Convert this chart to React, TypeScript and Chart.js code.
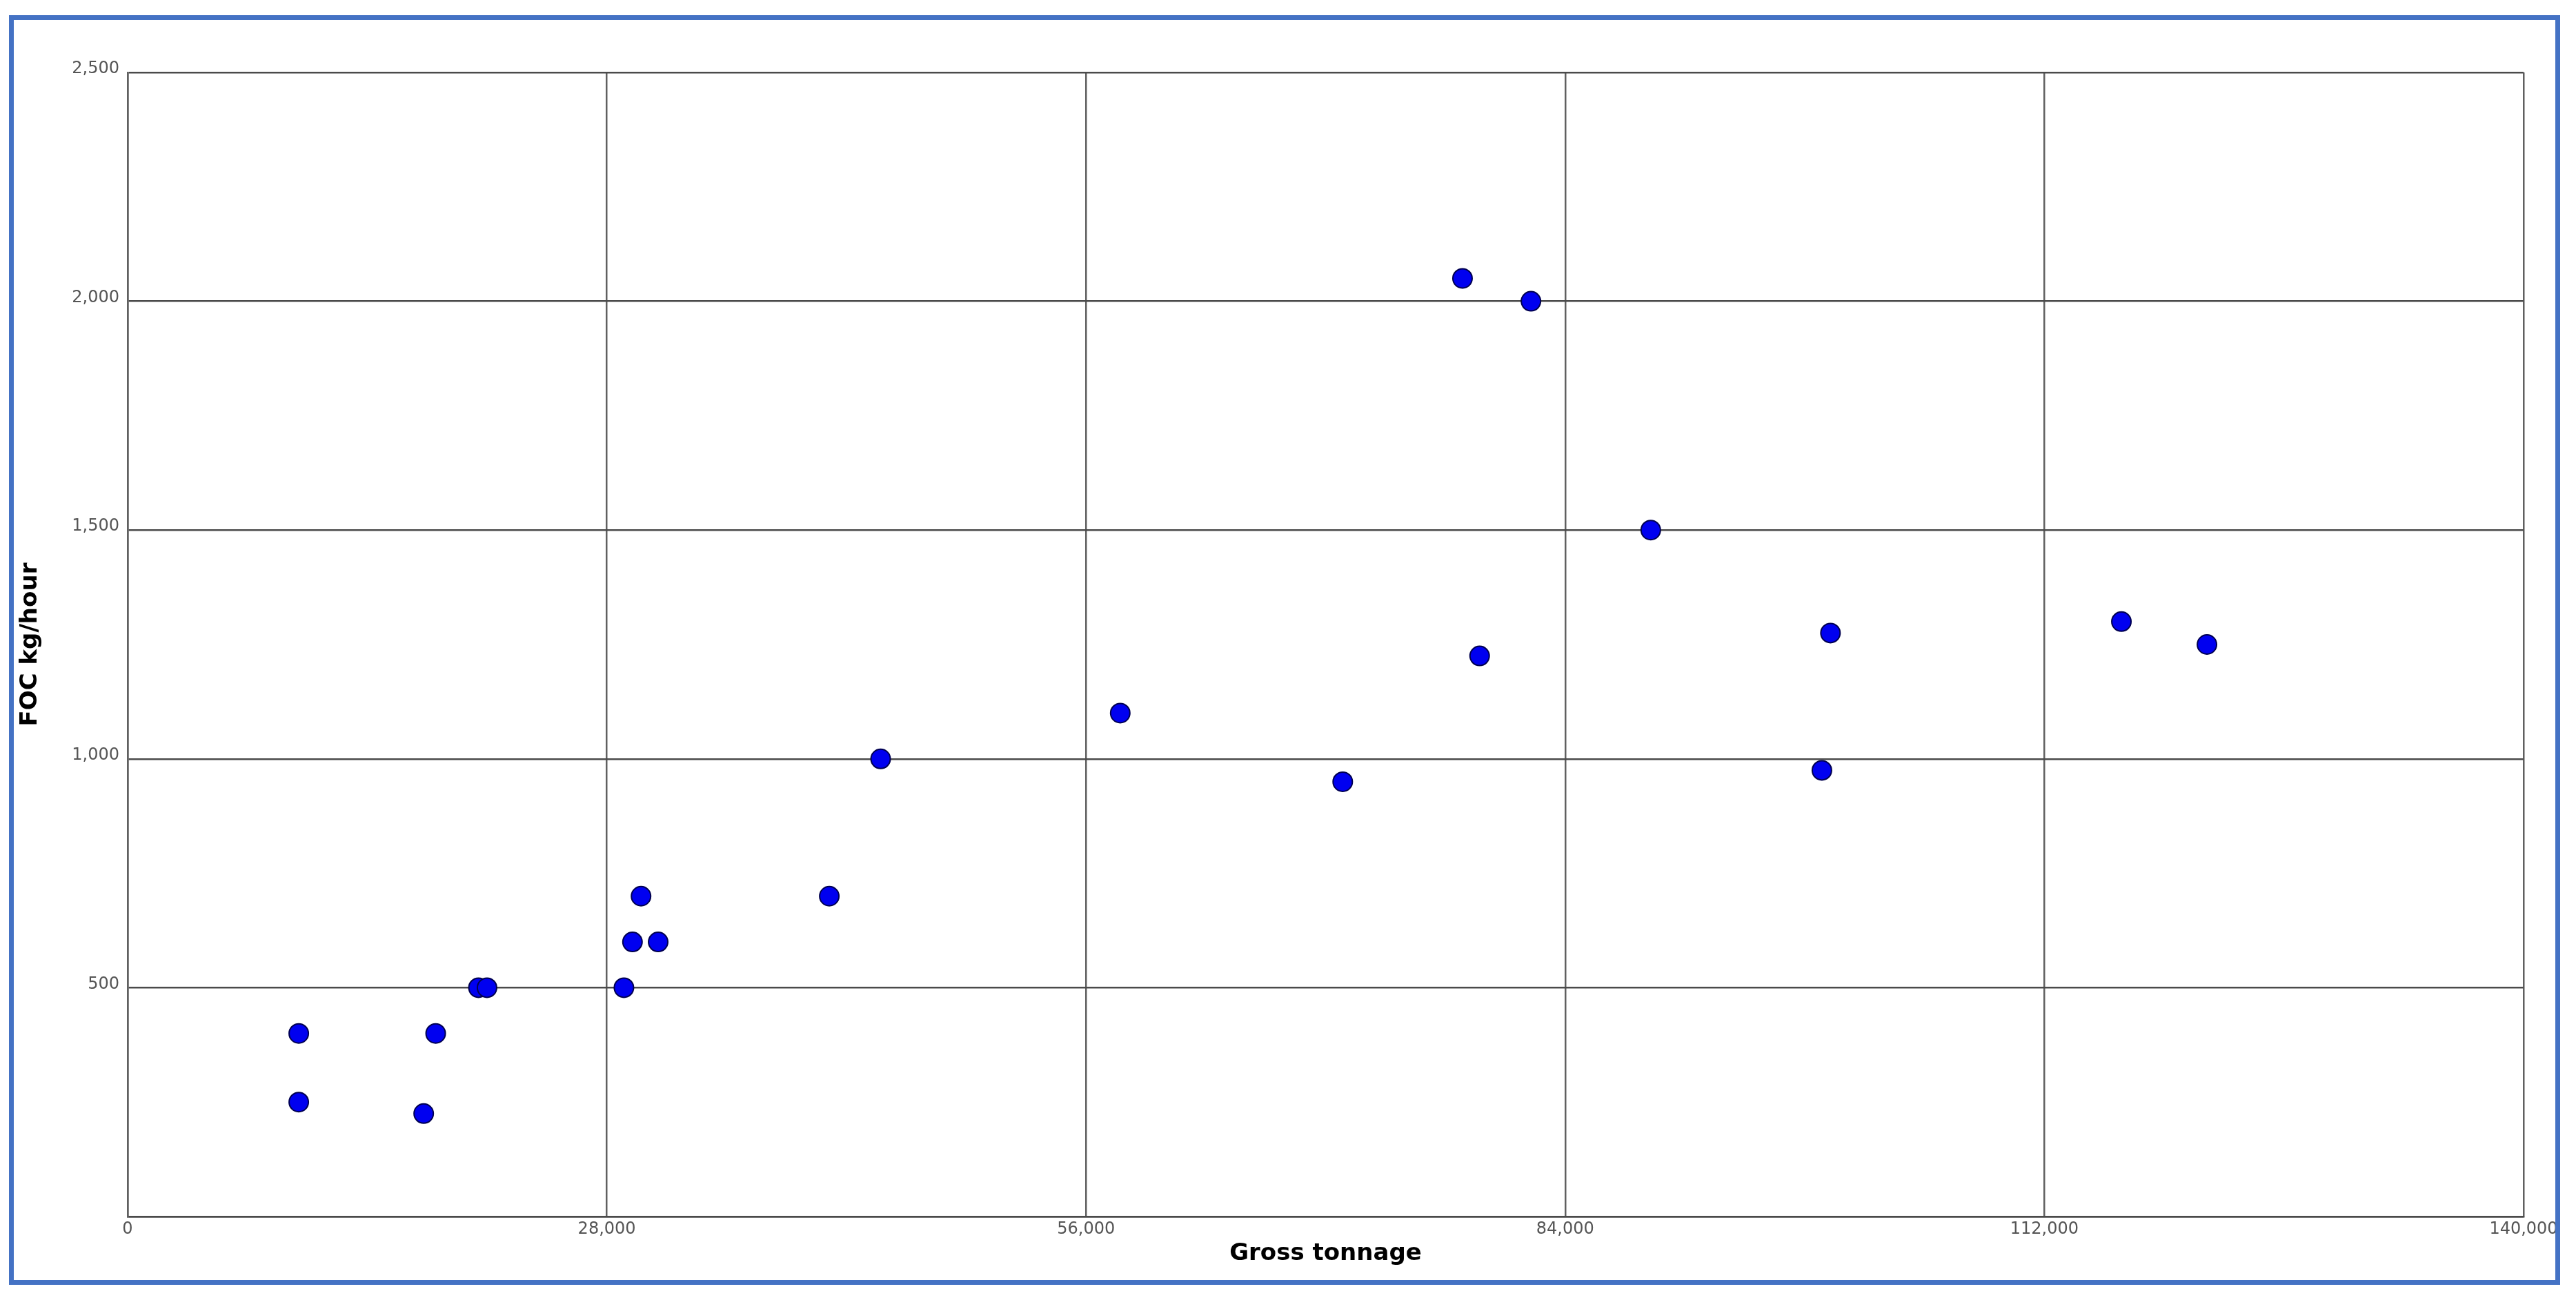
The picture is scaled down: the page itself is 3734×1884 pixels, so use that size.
import React, { useEffect, useRef } from "react";
import { Chart, registerables } from "chart.js";

Chart.register(...registerables);

const grossTonnage = [10000, 10000, 17300, 18000, 20500, 21000, 29000, 29500, 30000, 31000, 41000, 44000, 58000, 71000, 78000, 79000, 82000, 89000, 99000, 99500, 116500, 121500];
const focKgHour = [250, 400, 225, 400, 500, 500, 500, 600, 700, 600, 700, 1000, 1100, 950, 2050, 1225, 2000, 1500, 975, 1275, 1300, 1250];

const xTitle = "Gross tonnage";
const yTitle = "FOC kg/hour";
const xMax = 140000;
const xStep = 28000;
const yMax = 2500;
const yStep = 500;

const FONT = "'DejaVu Sans', Verdana, sans-serif";

export default function App() {
  const ref = useRef<HTMLCanvasElement | null>(null);

  useEffect(() => {
    if (!ref.current) return;
    const points = grossTonnage.map((x, i) => ({ x, y: focKgHour[i] }));
    const chart = new Chart(ref.current, {
      type: "scatter",
      data: {
        datasets: [
          {
            data: points,
            backgroundColor: "#0000f0",
            borderColor: "#000050",
            borderWidth: 2,
            pointRadius: 14,
            pointHoverRadius: 14,
          },
        ],
      },
      options: {
        animation: false,
        responsive: true,
        maintainAspectRatio: false,
        layout: { padding: { left: 0, top: 76, right: 46, bottom: 0 } },
        plugins: { legend: { display: false }, tooltip: { enabled: false } },
        scales: {
          x: {
            type: "linear",
            min: 0,
            max: xMax,
            z: 1,
            afterFit: (s: any) => {
              s.height = 92;
              s.paddingLeft = 0;
              s.paddingRight = 0;
            },
            ticks: {
              stepSize: xStep,
              padding: 4,
              color: "#555",
              font: { family: FONT, size: 24 },
              maxRotation: 0,
              autoSkip: false,
              callback: (v: any) => Number(v).toLocaleString("en-US"),
            },
            grid: { color: "#606060", lineWidth: 2.5, drawTicks: false },
            border: { color: "#4a4a4a", width: 2.5 },
            title: {
              display: true,
              text: xTitle,
              color: "#000",
              font: { family: FONT, size: 34, weight: "bold" },
              padding: { top: 0, bottom: 17 },
            },
          },
          y: {
            type: "linear",
            min: 0,
            max: yMax,
            z: 1,
            afterFit: (s: any) => {
              s.width = 165;
              s.paddingTop = 0;
              s.paddingBottom = 0;
            },
            ticks: {
              stepSize: yStep,
              padding: 12,
              labelOffset: -5,
              color: "#555",
              font: { family: FONT, size: 24 },
              callback: (v: any) => (Number(v) === 0 ? "" : Number(v).toLocaleString("en-US")),
            },
            grid: { color: "#4a4a4a", lineWidth: 2.5, drawTicks: false },
            border: { color: "#606060", width: 2.5 },
            title: {
              display: true,
              text: yTitle,
              color: "#000",
              font: { family: FONT, size: 34, weight: "bold" },
              padding: { top: 4, bottom: 0 },
            },
          },
        },
      },
    });
    return () => chart.destroy();
  }, []);

  return (
    <div
      style={{
        position: "absolute",
        left: 13,
        top: 22,
        width: 3698,
        height: 1840,
        boxSizing: "border-box",
        border: "7px solid #4472C4",
        background: "#fff",
      }}
    >
      <div style={{ position: "relative", width: 3684, height: 1826 }}>
        <canvas ref={ref} />
      </div>
    </div>
  );
}
